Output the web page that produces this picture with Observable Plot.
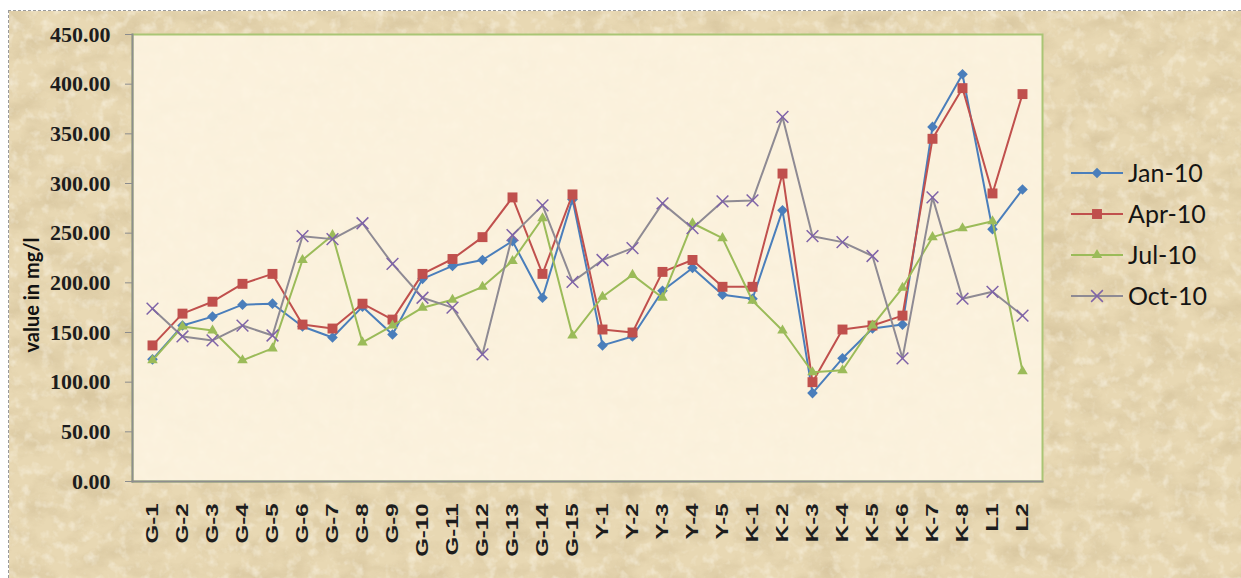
<!DOCTYPE html>
<html>
<head>
<meta charset="utf-8">
<script src="https://cdn.jsdelivr.net/npm/d3@7"></script>
<script src="https://cdn.jsdelivr.net/npm/@observablehq/plot@0.6"></script>
<style>
  html, body { margin: 0; padding: 0; background: #fff; }
  #sheet {
    position: absolute; left: 8px; top: 10px; width: 1233px; height: 568px;
    border-top: 1px dashed #9a9a9a; border-left: 1px dashed #9a9a9a;
    box-sizing: border-box; overflow: hidden;
  }
  #paper { position: absolute; left: -1px; top: -1px; }
  #chart { position: absolute; left: -1px; top: -1px; }
  #legend { position: absolute; left: 1062px; top: 141px; font-family: Lato, sans-serif; font-size: 25px; color: #141414; }
  .row { display: flex; align-items: center; height: 41px; }
  .row span { margin-left: 5px; line-height: 1; }
</style>
</head>
<body>
<div id="sheet">
  <svg id="paper" width="1233" height="568">
    <filter id="grain" x="0" y="0" width="100%" height="100%">
      <feTurbulence type="fractalNoise" baseFrequency="0.03 0.045" numOctaves="5" seed="11"/>
      <feColorMatrix type="matrix" values="0 0 0 0 0.58  0 0 0 0 0.46  0 0 0 0 0.26  1.8 0 0 0 -0.7"/>
    </filter>
    <filter id="speck" x="0" y="0" width="100%" height="100%">
      <feTurbulence type="fractalNoise" baseFrequency="0.09" numOctaves="3" seed="3"/>
      <feColorMatrix type="matrix" values="0 0 0 0 1  0 0 0 0 0.97  0 0 0 0 0.88  2.0 0 0 0 -1.0"/>
    </filter>
    <rect width="1233" height="568" fill="#e8d8b3"/>
    <rect width="1233" height="568" filter="url(#grain)" opacity="0.5"/>
    <rect width="1233" height="568" filter="url(#speck)" opacity="0.6"/>
  </svg>
  <div id="chart"></div>
  <div id="legend"></div>
</div>
<script>
// Sampling sites along the x axis
const sites = ["G-1","G-2","G-3","G-4","G-5","G-6","G-7","G-8","G-9","G-10","G-11","G-12","G-13","G-14","G-15",
               "Y-1","Y-2","Y-3","Y-4","Y-5","K-1","K-2","K-3","K-4","K-5","K-6","K-7","K-8","L1","L2"];

// Sampling rounds
const seriesNames = ["Jan-10", "Apr-10", "Jul-10", "Oct-10"];

// Measured values (mg/l) per site, one array per round
const jan10 = [123,157,166,178,179,156,145,176,148,204,217,223,242,185,284,137,146,192,215,188,184,273,89,124,154,158,357,410,254,294];
const apr10 = [137,169,181,199,209,158,154,179,163,209,224,246,286,209,289,153,150,211,223,196,196,310,100,153,157,167,345,396,290,390];
const jul10 = [122,156,152,122,134,223,248,140,157,175,183,196,222,265,147,186,208,185,260,245,182,152,110,112,157,195,246,255,262,111];
const oct10 = [174,146,142,157,147,247,244,260,219,185,175,128,248,278,201,223,235,280,255,282,283,367,247,241,227,124,286,184,191,167];

// Y axis ticks and title
const yTicks = [0,50,100,150,200,250,300,350,400,450];
const yTitle = "value in mg/l";

const seriesValues = [jan10, apr10, jul10, oct10];

// Appearance of each round: line colour, marker symbol, marker colour, marker size
const styles = [
  {line: "#4a7ebb", symbol: "diamond2", fill: "#4a7ebb", stroke: "none", r: 4.8, sw: 0},
  {line: "#c0504d", symbol: "square",   fill: "#c0504d", stroke: "none", r: 5.6, sw: 0},
  {line: "#9bbb59", symbol: "triangle", fill: "#9bbb59", stroke: "none", r: 3.9, sw: 0},
  {line: "#8e8a93", symbol: "times",    fill: "none",    stroke: "#7f63a8", r: 5.4, sw: 1.5}
];

const rows = seriesNames.flatMap((s, i) => sites.map((site, j) => ({site, series: s, value: seriesValues[i][j]})));

const seriesMarks = seriesNames.flatMap((s, i) => {
  const d = rows.filter(r => r.series === s);
  const st = styles[i];
  return [
    Plot.line(d, {x: "site", y: "value", stroke: st.line, strokeWidth: 2}),
    Plot.dot(d, {x: "site", y: "value", symbol: st.symbol, r: st.r, fill: st.fill, stroke: st.stroke, strokeWidth: st.sw})
  ];
});

const chart = Plot.plot({
  width: 1050,
  height: 560,
  marginLeft: 124,
  marginRight: 16,
  marginTop: 24,
  marginBottom: 89,
  style: {background: "transparent", overflow: "visible"},
  x: {type: "point", domain: sites, padding: 0.5},
  y: {domain: [0, 450]},
  marks: [
    Plot.frame({fill: "#fdf4e1", fillOpacity: 0.9, stroke: "#a9c575", strokeWidth: 2}),
    Plot.axisY({ticks: yTicks, tickFormat: d3.format(".2f"), tickSize: 7, tickPadding: 15,
                stroke: "#8c8c8c", fill: "#1d1d1d", fontFamily: "Liberation Serif", fontWeight: "bold",
                fontSize: 22, label: null}),
    Plot.axisX({tickSize: 0, tickPadding: 22, tickRotate: -90, fontFamily: "Liberation Sans",
                fontWeight: "bold", fontSize: 16, fill: "#1d1d1d", label: null}),
    Plot.frame({anchor: "left", stroke: "#8e8e8e", strokeWidth: 2}),
    Plot.frame({anchor: "bottom", stroke: "#8e8e8e", strokeWidth: 2}),
    ...seriesMarks,
    Plot.text([yTitle], {text: d => d, frameAnchor: "left", textAnchor: "middle", dx: -100, dy: 37, rotate: -90,
                         fontFamily: "Lato", fontWeight: "bold", fontSize: 20, fill: "#111"})
  ]
});

// Stretch the rotated site labels along their reading direction
d3.select(chart).selectAll('g[aria-label="x-axis tick label"] text')
  .attr("transform", function() { return (this.getAttribute("transform") || "") + " scale(1.5,1)"; });

document.getElementById("chart").appendChild(chart);

// Legend: line with marker, then round name
const symbolTypes = {diamond2: d3.symbolDiamond2, square: d3.symbolSquare, triangle: d3.symbolTriangle, times: d3.symbolTimes};
const legend = d3.select("#legend");
seriesNames.forEach((s, i) => {
  const st = styles[i];
  const row = legend.append("div").attr("class", "row");
  const svg = row.append("svg").attr("width", 52).attr("height", 20);
  svg.append("line").attr("x1", 0).attr("x2", 52).attr("y1", 10).attr("y2", 10)
     .attr("stroke", st.line).attr("stroke-width", 2);
  svg.append("path")
     .attr("transform", "translate(26,10)")
     .attr("d", d3.symbol(symbolTypes[st.symbol], Math.PI * st.r * st.r)())
     .attr("fill", st.fill).attr("stroke", st.stroke).attr("stroke-width", st.sw);
  row.append("span").text(s);
});
</script>
</body>
</html>
